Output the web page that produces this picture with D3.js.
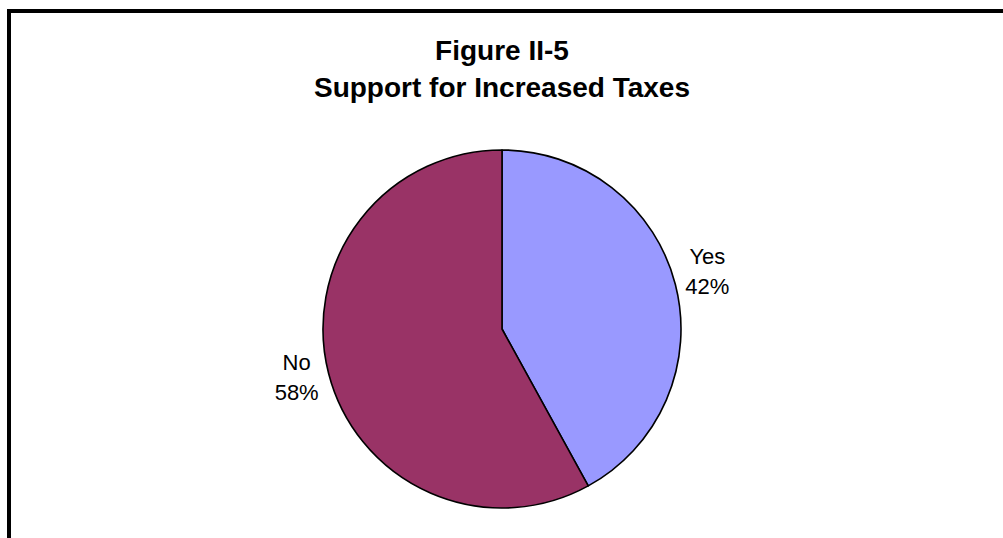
<!DOCTYPE html>
<html lang="en">
<head>
  <meta charset="UTF-8">
  <title>Figure II-5 Support for Increased Taxes</title>
  <script src="https://d3js.org/d3.v7.min.js"></script>
  <style>
    body { margin: 0; background: white; }
    svg { display: block; }
    .title { font-family: 'Liberation Sans', Arial, sans-serif; font-weight: bold; font-size: 28px; fill: black; }
    .label { font-family: 'Liberation Sans', Arial, sans-serif; font-size: 22px; fill: black; }
  </style>
</head>
<body>
<svg></svg>
<script>
const width = 1003, height = 538;

const categories = ["Yes", "No"];
const values = [42, 58];
const colors = ["#9999FF", "#993366"];
const titleLines = ["Figure II-5", "Support for Increased Taxes"];

const data = categories.map((c, i) => ({ category: c, value: values[i], color: colors[i] }));

const svg = d3.select("svg")
  .attr("width", width)
  .attr("height", height);

// frame (right and bottom edges run off the page)
svg.append("rect")
  .attr("x", 9)
  .attr("y", 11)
  .attr("width", 1100)
  .attr("height", 700)
  .style("fill", "white")
  .style("stroke", "black")
  .style("stroke-width", 4);

svg.append("text")
  .attr("class", "title")
  .attr("text-anchor", "middle")
  .attr("x", 502)
  .attr("y", 60)
  .text(titleLines[0]);

svg.append("text")
  .attr("class", "title")
  .attr("text-anchor", "middle")
  .attr("x", 502)
  .attr("y", 97)
  .text(titleLines[1]);

const cx = 502, cy = 329, radius = 179;

const g = svg.append("g")
  .attr("transform", `translate(${cx}, ${cy})`);

const pie = d3.pie()
  .value(d => d.value)
  .sort(null);

const arc = d3.arc()
  .innerRadius(0)
  .outerRadius(radius);

const labelArc = d3.arc()
  .innerRadius(radius + 33)
  .outerRadius(radius + 33);

const slices = pie(data);

g.selectAll(".slice")
  .data(slices)
  .enter().append("path")
  .attr("class", "slice")
  .attr("d", arc)
  .style("fill", d => d.data.color)
  .style("stroke", "black")
  .style("stroke-width", 1.6)
  .style("stroke-linejoin", "round");

const labels = g.selectAll(".label")
  .data(slices)
  .enter().append("text")
  .attr("class", "label")
  .attr("text-anchor", "middle")
  .attr("transform", d => `translate(${labelArc.centroid(d)})`);

labels.append("tspan")
  .attr("x", 0)
  .attr("y", -12)
  .text(d => d.data.category);

labels.append("tspan")
  .attr("x", 0)
  .attr("y", 18)
  .text(d => `${d.data.value}%`);
</script>
</body>
</html>
